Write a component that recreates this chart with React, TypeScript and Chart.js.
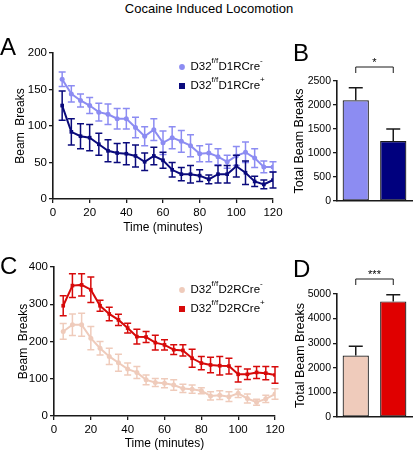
import React, { useEffect, useRef } from "react";
import { Chart, registerables } from "chart.js";
Chart.register(...registerables);

const FONT = "'Liberation Sans', Arial, Helvetica, sans-serif";

// ---------- Data ----------
const timeMinutes = [5, 10, 15, 20, 25, 30, 35, 40, 45, 50, 55, 60, 65, 70, 75, 80, 85, 90, 95, 100, 105, 110, 115, 120];

const d1CreNeg = [164, 144, 135, 128, 119, 116, 110, 110, 98, 86, 95, 77, 84, 79, 73, 62, 63, 58, 51, 59, 64, 56, 44, 44];
const d1CreNegErr = [10, 11, 9, 11, 12, 14, 14, 14, 14, 13, 15, 16, 15, 15, 15, 11, 12, 11, 9, 13, 14, 13, 8, 7];
const d1CrePos = [128, 92, 86, 84, 75, 66, 63, 62, 59, 51, 59, 53, 40, 34, 34, 32, 27, 34, 34, 45, 36, 24, 20, 26];
const d1CrePosErr = [20, 18, 17, 18, 15, 15, 13, 15, 15, 12, 12, 11, 10, 9, 12, 8, 6, 12, 12, 15, 16, 7, 6, 11];

const d2CreNeg = [227, 245, 245, 209, 182, 160, 143, 126, 117, 97, 90, 88, 83, 74, 72, 68, 54, 56, 52, 61, 47, 37, 46, 59];
const d2CreNegErr = [21, 29, 31, 31, 18, 22, 23, 16, 16, 13, 11, 12, 14, 11, 11, 8, 11, 12, 13, 11, 12, 8, 10, 14];
const d2CrePos = [296, 350, 352, 339, 296, 274, 258, 236, 213, 212, 197, 191, 178, 176, 155, 142, 137, 135, 134, 112, 112, 117, 115, 110];
const d2CrePosErr = [27, 32, 30, 34, 15, 18, 15, 13, 20, 15, 20, 14, 13, 15, 24, 18, 21, 25, 21, 21, 14, 16, 18, 22];

const groupsD1 = ["D32f/fD1RCre-", "D32f/fD1RCre+"];
const totalsD1 = [2100, 1250];
const totalsD1Err = [260, 250];
const groupsD2 = ["D32f/fD2RCre-", "D32f/fD2RCre+"];
const totalsD2 = [2500, 4700];
const totalsD2Err = [380, 270];

const sigD1 = "*";
const sigD2 = "***";

// ---------- Colors ----------
const C_D1NEG = "#8C8CF2";
const C_D1POS = "#0A0A7C";
const C_D2NEG = "#EFCBBB";
const C_D2POS = "#D70A0A";
const AXIS = "#1a1a1a";

// ---------- Plugins ----------
const errorBarPlugin = {
  id: "errorBars",
  afterDatasetDraw(chart: any, args: any) {
    const ds: any = chart.data.datasets[args.index];
    const errs: number[] | undefined = ds.errors;
    if (!errs) return;
    const ys = chart.scales.y;
    const ctx = chart.ctx;
    const upOnly = !!ds.errUpOnly;
    const cap = ds.errCap ?? 3;
    ctx.save();
    ctx.strokeStyle = ds.errColor ?? ds.borderColor;
    ctx.lineWidth = ds.errWidth ?? 1.5;
    args.meta.data.forEach((el: any, i: number) => {
      const raw = ds.data[i];
      const v = typeof raw === "object" ? raw.y : raw;
      const x = el.x;
      const top = ys.getPixelForValue(v + errs[i]);
      const bot = upOnly ? ys.getPixelForValue(v) : ys.getPixelForValue(v - errs[i]);
      ctx.beginPath();
      ctx.moveTo(x, top);
      ctx.lineTo(x, bot);
      ctx.moveTo(x - cap, top);
      ctx.lineTo(x + cap, top);
      if (!upOnly) {
        ctx.moveTo(x - cap, bot);
        ctx.lineTo(x + cap, bot);
      }
      ctx.stroke();
    });
    ctx.restore();
  },
};

const supLegendPlugin = {
  id: "supLegend",
  afterDraw(chart: any) {
    const o = chart.options.plugins.supLegend;
    if (!o || !o.items) return;
    const ctx = chart.ctx;
    ctx.save();
    o.items.forEach((it: any, i: number) => {
      const y = o.y + i * o.dy;
      let x = o.x;
      ctx.fillStyle = it.color;
      if (it.shape === "circle") {
        ctx.beginPath();
        ctx.arc(x, y, 2.9, 0, Math.PI * 2);
        ctx.fill();
      } else {
        ctx.fillRect(x - 3, y - 3, 6, 6);
      }
      x += 8.5;
      ctx.fillStyle = "#000";
      ctx.textBaseline = "middle";
      it.parts.forEach((p: any) => {
        ctx.font = `${p.sup ? 8 : 11.5}px ${FONT}`;
        ctx.fillText(p.t, x, y + (p.sup ? -6 : 0));
        x += ctx.measureText(p.t).width + (p.sup ? 0.3 : 0);
      });
    });
    ctx.restore();
  },
};

const bracketPlugin = {
  id: "sigBracket",
  afterDraw(chart: any) {
    const o = chart.options.plugins.sigBracket;
    if (!o) return;
    const meta = chart.getDatasetMeta(0);
    const x0 = meta.data[0].x;
    const x1 = meta.data[1].x;
    const yTop = chart.chartArea.top - o.gap;
    const ctx = chart.ctx;
    ctx.save();
    ctx.strokeStyle = AXIS;
    ctx.lineWidth = 1;
    ctx.beginPath();
    ctx.moveTo(x0, yTop + 6);
    ctx.lineTo(x0, yTop);
    ctx.lineTo(x1, yTop);
    ctx.lineTo(x1, yTop + 6);
    ctx.stroke();
    ctx.fillStyle = "#000";
    ctx.font = `11px ${FONT}`;
    ctx.textAlign = "center";
    ctx.textBaseline = "middle";
    ctx.fillText(o.text, (x0 + x1) / 2, yTop - 4);
    ctx.restore();
  },
};

const lineTickFont = { family: FONT, size: 11.5 };
const barTickFont = { family: FONT, size: 10.5 };
const titleFont = { family: FONT, size: 12 };
const barTitleFont = { family: FONT, size: 12.5 };

const axisGrid = { display: true, drawOnChartArea: false, drawTicks: true, tickLength: 4, color: AXIS, lineWidth: 1.3 };
const axisBorder = { display: true, color: AXIS, width: 1.6 };

function legendParts(receptor: string, sign: string) {
  return [
    { t: "D32" },
    { t: "f/f", sup: true },
    { t: receptor },
    { t: sign, sup: true },
  ];
}

function lineConfig(p: any) {
  return {
    type: "line",
    data: {
      datasets: [
        {
          label: p.labels[0],
          data: timeMinutes.map((t, i) => ({ x: t, y: p.neg[i] })),
          errors: p.negErr,
          borderColor: p.cNeg,
          backgroundColor: p.cNeg,
          pointStyle: "circle",
          pointRadius: 2.5,
          pointBorderWidth: 0,
          borderWidth: 2,
          order: 2,
          errCap: 3.5,
        },
        {
          label: p.labels[1],
          data: timeMinutes.map((t, i) => ({ x: t, y: p.pos[i] })),
          errors: p.posErr,
          borderColor: p.cPos,
          backgroundColor: p.cPos,
          pointStyle: "rect",
          pointRadius: 2.6,
          pointBorderWidth: 0,
          borderWidth: 2,
          order: 1,
          errCap: 3.5,
        },
      ],
    },
    options: {
      responsive: false,
      animation: false,
      layout: { padding: { left: 0, top: p.padTop, right: p.padRight, bottom: 0 } },
      plugins: {
        legend: { display: false },
        tooltip: { enabled: false },
        supLegend: {
          x: p.legX,
          y: p.legY,
          dy: p.legDy,
          items: [
            { color: p.cNeg, shape: "circle", parts: legendParts(p.receptor, "-") },
            { color: p.cPos, shape: "rect", parts: legendParts(p.receptor, "+") },
          ],
        },
      },
      scales: {
        x: {
          type: "linear",
          min: 0,
          max: 120,
          ticks: { stepSize: 20, color: "#000", font: lineTickFont, padding: 3, maxRotation: 0 },
          grid: axisGrid,
          border: axisBorder,
          title: { display: true, text: "Time (minutes)", color: "#000", font: titleFont, padding: { top: 0, bottom: p.xTitlePad } },
          afterFit: (s: any) => { s.height = p.xH; },
        },
        y: {
          min: 0,
          max: p.yMax,
          ticks: { stepSize: p.yStep, color: "#000", font: lineTickFont, padding: 2 },
          grid: axisGrid,
          border: axisBorder,
          title: { display: true, text: "Beam  Breaks", color: "#000", font: titleFont, padding: { top: p.yTitlePad, bottom: 0 } },
          afterFit: (s: any) => { s.width = p.yW; },
        },
      },
    },
    plugins: [errorBarPlugin, supLegendPlugin],
  };
}

function barConfig(p: any) {
  return {
    type: "bar",
    data: {
      labels: p.groups,
      datasets: [
        {
          data: p.values,
          errors: p.errs,
          errUpOnly: true,
          errColor: AXIS,
          errWidth: 1.5,
          errCap: 7,
          backgroundColor: p.colors,
          borderColor: AXIS,
          borderWidth: 1.2,
          borderSkipped: false,
          barPercentage: 0.7,
          categoryPercentage: 1,
        },
      ],
    },
    options: {
      responsive: false,
      animation: false,
      layout: { padding: { left: 0, top: p.padTop, right: p.padRight, bottom: 0 } },
      plugins: {
        legend: { display: false },
        tooltip: { enabled: false },
        sigBracket: { gap: p.gap, text: p.sig },
      },
      scales: {
        x: {
          ticks: { display: false },
          grid: { display: false },
          border: axisBorder,
          afterFit: (s: any) => { s.height = p.xH; },
        },
        y: {
          min: 0,
          max: p.yMax,
          ticks: { stepSize: p.yStep, color: "#000", font: barTickFont, padding: 2, callback: (v: any) => String(v) },
          grid: axisGrid,
          border: axisBorder,
          title: { display: true, text: "Total Beam Breaks", color: "#000", font: barTitleFont, padding: { top: p.yTitlePad, bottom: 0 } },
          afterFit: (s: any) => { s.width = p.yW; },
        },
      },
    },
    plugins: [errorBarPlugin, bracketPlugin],
  };
}

function ChartCanvas({ left, top, width, height, config }: any) {
  const ref = useRef<HTMLCanvasElement>(null);
  useEffect(() => {
    const chart = new Chart(ref.current as HTMLCanvasElement, config);
    return () => chart.destroy();
  }, []);
  return (
    <canvas
      ref={ref}
      width={width}
      height={height}
      style={{ position: "absolute", left, top, width, height, display: "block" }}
    />
  );
}

const letterStyle = (left: number, top: number): React.CSSProperties => ({
  position: "absolute",
  left,
  top,
  fontFamily: FONT,
  fontSize: 24,
  lineHeight: "24px",
  color: "#000",
});

export default function App() {
  const cfgA = lineConfig({
    labels: [groupsD1[0], groupsD1[1]],
    neg: d1CreNeg, negErr: d1CreNegErr, pos: d1CrePos, posErr: d1CrePosErr,
    cNeg: C_D1NEG, cPos: C_D1POS, receptor: "D1RCre",
    padTop: 23, padRight: 17, xH: 36, yW: 53, yMax: 200, yStep: 50,
    xTitlePad: 0, yTitlePad: 13.5,
    legX: 182, legY: 37, legDy: 19,
  });
  const cfgC = lineConfig({
    labels: [groupsD2[0], groupsD2[1]],
    neg: d2CreNeg, negErr: d2CreNegErr, pos: d2CrePos, posErr: d2CrePosErr,
    cNeg: C_D2NEG, cPos: C_D2POS, receptor: "D2RCre",
    padTop: 32, padRight: 15, xH: 36, yW: 54, yMax: 400, yStep: 100,
    xTitlePad: 1.5, yTitlePad: 16.5,
    legX: 182, legY: 55, legDy: 19,
  });
  const cfgB = barConfig({
    groups: groupsD1, values: totalsD1, errs: totalsD1Err, colors: [C_D1NEG, "#00007E"],
    padTop: 51, padRight: 6, xH: 34, yW: 47, yMax: 2500, yStep: 500, yTitlePad: 2.5, gap: 14, sig: sigD1,
  });
  const cfgD = barConfig({
    groups: groupsD2, values: totalsD2, errs: totalsD2Err, colors: [C_D2NEG, "#E00000"],
    padTop: 59, padRight: 6, xH: 35, yW: 47, yMax: 5000, yStep: 1000, yTitlePad: 3.5, gap: 15, sig: sigD2,
  });

  return (
    <div style={{ position: "absolute", left: 0, top: 0, width: 418, height: 452, background: "#fff", overflow: "hidden" }}>
      <div
        style={{
          position: "absolute", left: 0, top: 2, width: 418, textAlign: "center",
          fontFamily: FONT, fontSize: 13, lineHeight: "13px", color: "#000",
        }}
      >
        Cocaine Induced Locomotion
      </div>
      <ChartCanvas left={0} top={30} width={290} height={205} config={cfgA} />
      <ChartCanvas left={290} top={30} width={128} height={205} config={cfgB} />
      <ChartCanvas left={0} top={235} width={290} height={217} config={cfgC} />
      <ChartCanvas left={290} top={235} width={128} height={217} config={cfgD} />
      <div style={letterStyle(0, 35)}>A</div>
      <div style={letterStyle(293, 41)}>B</div>
      <div style={letterStyle(0, 254)}>C</div>
      <div style={letterStyle(293, 257)}>D</div>
    </div>
  );
}
